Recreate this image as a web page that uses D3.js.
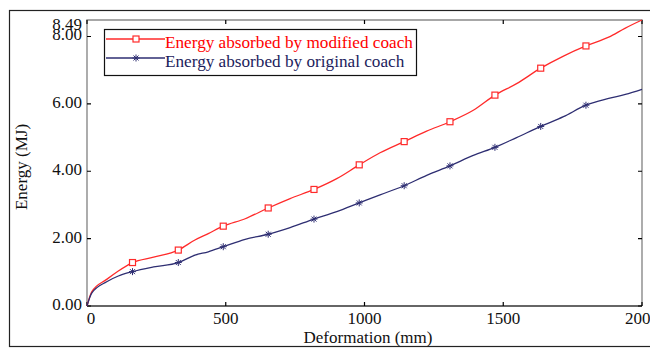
<!DOCTYPE html>
<html>
<head>
<meta charset="utf-8">
<script src="https://cdn.jsdelivr.net/npm/d3@7/dist/d3.min.js"></script>
<style>
  html, body { margin: 0; padding: 0; background: #fff; }
  svg { display: block; }
  text { font-family: "Liberation Serif", "Times New Roman", serif; }
</style>
</head>
<body>
<svg id="chart" width="650" height="349"></svg>
<script>
// Deformation samples (mm), shared by both curves
const deformation = [0, 17, 71, 113, 164, 240, 329, 389, 437, 491, 570, 653, 732, 818, 900,
  981, 1056, 1143, 1224, 1308, 1392, 1470, 1548, 1635, 1717, 1798, 1880, 1940, 2000];

// Absorbed energy (MJ)
const energyModified = [0, 0.42, 0.79, 1.04, 1.29, 1.45, 1.66, 1.96, 2.15, 2.37, 2.59, 2.91, 3.19, 3.46, 3.78,
  4.19, 4.55, 4.88, 5.19, 5.47, 5.81, 6.26, 6.60, 7.06, 7.42, 7.72, 7.98, 8.25, 8.49];
const energyOriginal = [0, 0.38, 0.72, 0.89, 1.02, 1.16, 1.29, 1.51, 1.61, 1.76, 1.98, 2.13, 2.33, 2.58, 2.80,
  3.06, 3.30, 3.57, 3.88, 4.16, 4.47, 4.71, 5.00, 5.33, 5.62, 5.96, 6.16, 6.28, 6.43];

// Deformations at which a marker is drawn
const markerAt = [164, 329, 491, 653, 818, 981, 1143, 1308, 1470, 1635, 1798];

const seriesNames = ["Energy absorbed by modified coach", "Energy absorbed by original coach"];
const xTicks = [0, 500, 1000, 1500, 2000];
const yTicks = [0, 2, 4, 6, 8, 8.49];
const xTitle = "Deformation (mm)";
const yTitle = "Energy (MJ)";

const svg = d3.select("#chart");
const plotL = 87, plotR = 642, plotT = 20, plotB = 306;

const x = d3.scaleLinear().domain([0, 2000]).range([plotL, plotR]);
const y = d3.scaleLinear().domain([0, 8.49]).range([plotB, plotT]);

// outer border
svg.append("rect").attr("x", 9.5).attr("y", 10.5).attr("width", 645).attr("height", 336)
  .attr("fill", "none").attr("stroke", "#222").attr("stroke-width", 1.2);

// plot frame
svg.append("path")
  .attr("d", `M${plotL},${plotB}V${plotT}H${plotR}V${plotB}`)
  .attr("fill", "none").attr("stroke", "#8a8a8a").attr("stroke-width", 1.4);
svg.append("line").attr("x1", plotL).attr("x2", plotR).attr("y1", plotB).attr("y2", plotB)
  .attr("stroke", "#333").attr("stroke-width", 1.4);

// inward ticks on all four sides
const tickLen = 4;
const yMain = yTicks.filter(d => d !== 8.49);
svg.append("g").selectAll("path").data(yMain).join("path")
  .attr("d", d => `M${plotL},${y(d)}h${tickLen}M${plotR},${y(d)}h${-tickLen}`)
  .attr("stroke", "#000").attr("stroke-width", 1.2);
svg.append("g").selectAll("path").data(xTicks).join("path")
  .attr("d", d => `M${x(d)},${plotB}v${-tickLen}M${x(d)},${plotT}v${tickLen}`)
  .attr("stroke", "#000").attr("stroke-width", 1.2);

// tick labels
svg.append("g").selectAll("text").data(yTicks).join("text")
  .attr("x", plotL - 5)
  .attr("y", d => y(d) + (d === 8.49 ? 4 : -2))
  .attr("dy", "0.35em")
  .attr("text-anchor", "end")
  .attr("font-size", 17).attr("fill", "#111")
  .text(d => d.toFixed(2));
svg.append("g").selectAll("text").data(xTicks).join("text")
  .attr("x", d => x(d) + (d === 0 ? 4 : 0))
  .attr("y", 324)
  .attr("text-anchor", "middle")
  .attr("font-size", 17).attr("fill", "#111")
  .text(d => d);

// axis titles
svg.append("text").attr("x", 368).attr("y", 343).attr("text-anchor", "middle")
  .attr("font-size", 17).attr("fill", "#111").text(xTitle);
svg.append("text").attr("transform", "translate(27,167) rotate(-90)").attr("text-anchor", "middle")
  .attr("font-size", 17).attr("fill", "#111").text(yTitle);

// curves
const series = [
  { name: seriesNames[0], values: energyModified, color: "#ff2a2a", text: "#ff0000", marker: "square" },
  { name: seriesNames[1], values: energyOriginal, color: "#2e2e72", text: "#1c1c5c", marker: "star" }
];
const line = d3.line().x(d => x(d[0])).y(d => y(d[1])).curve(d3.curveMonotoneX);

const asterisk = "M-3.5,0H3.5M0,-3.5V3.5M-2.5,-2.5L2.5,2.5M-2.5,2.5L2.5,-2.5";

function drawMarker(g, s) {
  if (s.marker === "square") {
    g.append("rect").attr("x", -3).attr("y", -3).attr("width", 6).attr("height", 6)
      .attr("fill", "#fff").attr("stroke", s.color).attr("stroke-width", 1.2);
  } else {
    g.append("path").attr("d", asterisk).attr("stroke", s.color).attr("stroke-width", 1);
  }
}

series.forEach(s => {
  const pts = deformation.map((d, i) => [d, s.values[i]]);
  svg.append("path").datum(pts).attr("d", line)
    .attr("fill", "none").attr("stroke", s.color).attr("stroke-width", 1.3);
  pts.filter(p => markerAt.includes(p[0])).forEach(p => {
    const g = svg.append("g").attr("transform", `translate(${x(p[0])},${y(p[1])})`);
    drawMarker(g, s);
  });
});

// legend
const legend = svg.append("g");
legend.append("rect").attr("x", 104.5).attr("y", 29.5).attr("width", 312).attr("height", 46)
  .attr("fill", "#fff").attr("stroke", "#111").attr("stroke-width", 1.2);
series.forEach((s, i) => {
  const ly = 39 + i * 19;
  legend.append("line").attr("x1", 106).attr("x2", 165).attr("y1", ly).attr("y2", ly)
    .attr("stroke", s.color).attr("stroke-width", 1.3);
  const g = legend.append("g").attr("transform", `translate(136,${ly})`);
  drawMarker(g, s);
  legend.append("text").attr("x", 165).attr("y", ly + 9)
    .attr("font-size", 17.2).attr("fill", s.text).text(s.name);
});
</script>
</body>
</html>
